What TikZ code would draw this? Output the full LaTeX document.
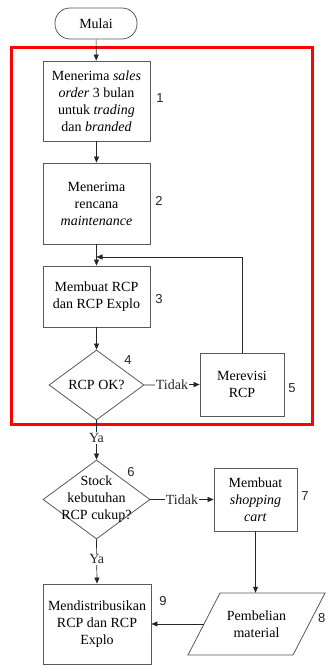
\documentclass[tikz,border=0pt]{standalone}
\usepackage{fontspec}
\setmainfont{Liberation Serif}
\newfontfamily\numfont{Liberation Sans}
\usetikzlibrary{arrows.meta,shapes.geometric}
\begin{document}
\begin{tikzpicture}[x=1pt,y=-1pt,
  box/.style={draw=black!65,line width=0.8pt,fill=white,align=center,inner sep=1pt,font=\fontsize{14}{17}\selectfont},
  dia/.style={draw=black!65,line width=0.8pt,diamond,inner sep=0pt},
  txt/.style={align=center,font=\fontsize{14}{17}\selectfont,inner sep=0pt},
  num/.style={font=\numfont\fontsize{13}{15}\selectfont,text=black!85},
  arr/.style={-{Triangle[length=6pt,width=5pt]},line width=0.7pt,black!85},
  lbl/.style={fill=white,inner sep=1pt,font=\fontsize{14}{16}\selectfont}]
\useasboundingbox (0,0) rectangle (328,666);
\fill[white] (0,0) rectangle (328,666);
% red frame
\draw[red,line width=3pt] (11,48) rectangle (312,424);
% nodes
\node[box,rounded corners=15pt,minimum width=82pt,minimum height=31pt] (start) at (96,23.5) {Mulai};
\node[box,minimum width=107pt,minimum height=80pt] (b1) at (96.5,101) {Menerima \textit{sales}\\\textit{order} 3 bulan\\untuk \textit{trading}\\dan \textit{branded}};
\node[box,minimum width=107pt,minimum height=81pt] (b2) at (96.5,203.5) {Menerima\\rencana\\\textit{maintenance}};
\node[box,minimum width=107pt,minimum height=61pt] (b3) at (96.5,296.5) {Membuat RCP\\dan RCP Explo};
\node[dia,minimum width=95pt,minimum height=70pt] (d4) at (96.5,385) {};
\node[txt] (t4) at (d4.center) {RCP OK?};
\node[box,minimum width=84pt,minimum height=63pt] (b5) at (242,384.5) {Merevisi\\RCP};
\node[dia,minimum width=107pt,minimum height=79pt] (d6) at (96.5,499.5) {};
\node[txt] (t6) at (d6.center) {Stock\\kebutuhan\\RCP cukup?};
\node[box,minimum width=83pt,minimum height=63pt] (b7) at (255.5,499.5) {Membuat\\\textit{shopping}\\\textit{cart}};
\draw[draw=black!65,line width=0.8pt,fill=white] (220,593) -- (325,593) -- (293,655) -- (188,655) -- cycle;
\node[txt,minimum width=105pt,minimum height=62pt] (p8) at (256.5,624) {Pembelian\\material};
\node[box,minimum width=108pt,minimum height=80pt] (b9) at (97,624) {Mendistribusikan\\RCP dan RCP\\Explo};
% numbers
\node[num] (n1) at (160,98) {1};
\node[num] (n2) at (159,201) {2};
\node[num] (n3) at (159,299) {3};
\node[num] (n4) at (128,360) {4};
\node[num] (n5) at (292,388) {5};
\node[num] (n6) at (131,472) {6};
\node[num] (n7) at (305,496) {7};
\node[num,anchor=west,inner sep=0pt] (n8) at (318,618) {8};
\node[num] (n9) at (163,601) {9};
% connectors
\coordinate (loopA) at (b5.north |- 0,257);
\coordinate (loopB) at (96.5,257);
\draw[arr] (start) -- (b1);
\draw[arr] (b1) -- (b2);
\draw[arr] (b2) -- (b3);
\draw[arr] (b3) -- (d4);
\draw[arr] (d4.east) -- node[lbl] {Tidak} (b5.west);
\draw[arr] (b5.north) -- (loopA) -- (loopB);
\draw[arr] (d4.south) -- node[lbl,pos=0.45] {Ya} (d6.north);
\draw[arr] (d6.east) -- node[lbl] {Tidak} (b7.west);
\draw[arr] (b7.south) -- (b7.south |- p8.north);
\draw[arr] (p8.west) -- (b9.east);
\draw[arr] (d6.south) -- node[lbl,pos=0.45] {Ya} (b9.north);
\end{tikzpicture}
\end{document}
